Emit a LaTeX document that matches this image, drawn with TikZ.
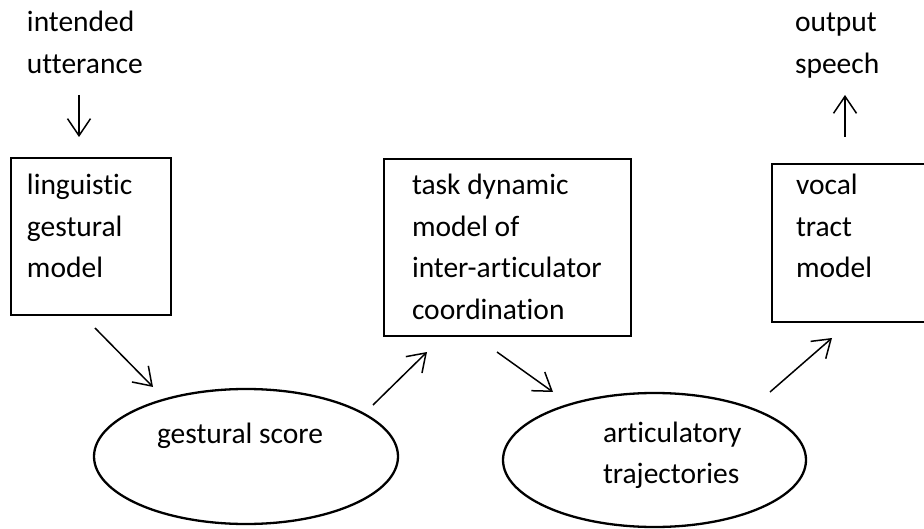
\documentclass[tikz,border=0pt]{standalone}
\usepackage{fontspec}
\setmainfont{Carlito}[Ligatures={NoCommon}]
\usetikzlibrary{arrows.meta,shapes.geometric}
\begin{document}
\begin{tikzpicture}[x=1pt,y=-1pt,
  boxnode/.style={draw,line width=2.4pt,rectangle,inner sep=0pt,outer sep=0pt},
  ellnode/.style={draw,line width=2.3pt,ellipse,inner sep=0pt,outer sep=0pt},
  lbl/.style={anchor=base west,inner sep=0pt,outer sep=0pt,font=\fontsize{29.5}{41.5}\selectfont},
  arr/.style={line width=1.5pt,-{Straight Barb[length=17pt,width=23pt]}}]
\useasboundingbox (0,0) rectangle (924,529);
\clip (0,0) rectangle (924,529);
% boxes
\node[boxnode,minimum width=160pt,minimum height=157pt] (b1) at (91,236.5) {};
\node[boxnode,minimum width=247pt,minimum height=177pt] (b2) at (507.5,247.5) {};
\node[boxnode,minimum width=164pt,minimum height=158pt] (b3) at (854,243) {};
% ellipses
\node[ellnode,minimum width=304pt,minimum height=135pt] (e1) at (246,456.5) {};
\node[ellnode,minimum width=303pt,minimum height=134pt] (e2) at (654.5,460) {};
% texts
\node[lbl] (t0) at (27,32) {\parbox[t]{200pt}{intended\\utterance}};
\node[lbl] (t1) at (27,195) {\parbox[t]{200pt}{linguistic\\gestural\\model}};
\node[lbl] (t2) at (412,195) {\parbox[t]{240pt}{task dynamic\\model of\\inter-articulator\\coordination}};
\node[lbl] (t3) at (796,195) {\parbox[t]{150pt}{vocal\\tract\\model}};
\node[lbl] (t4) at (795,32) {\parbox[t]{150pt}{output\\speech}};
\node[lbl] (t5) at (157,443) {gestural score};
\node[lbl] (t6) at (603,442) {\parbox[t]{200pt}{articulatory\\trajectories}};
% arrows
\draw[arr] ([shift={(68,-63)}]b1.north west) -- ([shift={(68,-21)}]b1.north west);
\draw[arr] ([shift={(84,13)}]b1.south west) -- ([shift={(-93,-69.5)}]e1.center);
\draw[arr] ([shift={(127,-51.5)}]e1.center) -- ([shift={(43,16)}]b2.south west);
\draw[arr] ([shift={(113,16)}]b2.south west) -- ([shift={(-101.5,-68)}]e2.center);
\draw[arr] ([shift={(115.5,-68)}]e2.center) -- ([shift={(60,16)}]b3.south west);
\draw[arr] ([shift={(73,-27)}]b3.north west) -- ([shift={(73,-69)}]b3.north west);
\end{tikzpicture}
\end{document}
